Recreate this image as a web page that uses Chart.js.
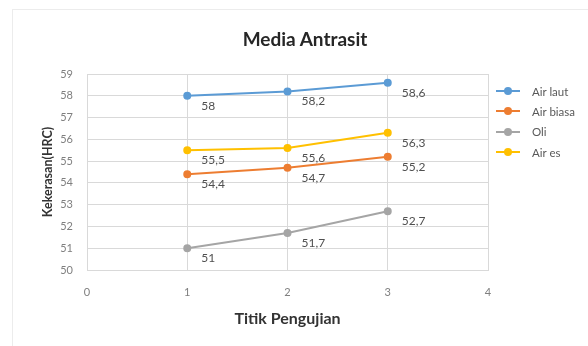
<!DOCTYPE html>
<html>
<head>
<meta charset="utf-8">
<script src="https://cdn.jsdelivr.net/npm/chart.js@4.4.1/dist/chart.umd.min.js"></script>
<style>
    body { margin: 0; background: #fff; font-family: Lato, "Open Sans", sans-serif; }
    #wrap { position: relative; width: 588px; height: 346px; }
    #frame { position: absolute; left: 12px; top: 9px; width: 580px; height: 340px;
             border-left: 1px solid #ececec; border-top: 1px solid #ececec; }
    #chartTitle { position: absolute; left: 185px; width: 240px; top: 27px; text-align: center;
                  font-weight: bold; font-size: 19px; color: #262626; }
    #customLegend { position: absolute; left: 496px; top: 81px; }
    .legend-item { height: 20.3px; display: flex; align-items: center; font-size: 11.5px; color: #595959; }
    .legend-mark { position: relative; width: 24px; height: 2px; margin-right: 12px; }
    .legend-mark i { position: absolute; left: 8px; top: -3px; width: 8px; height: 8px; border-radius: 50%; }
</style>
</head>
<body>
<div id="wrap">
    <div id="frame"></div>
    <div id="chartTitle">Media Antrasit</div>
    <canvas id="hardnessChart" width="588" height="346"></canvas>
    <div id="customLegend"></div>
</div>
<script>
const testPoints = [1, 2, 3];
const seriesNames = ['Air laut', 'Air biasa', 'Oli', 'Air es'];
const airLaut = [58, 58.2, 58.6];
const airBiasa = [54.4, 54.7, 55.2];
const oli = [51, 51.7, 52.7];
const airEs = [55.5, 55.6, 56.3];
const seriesColors = ['#5B9BD5', '#ED7D31', '#A5A5A5', '#FFC000'];
const yTicks = { min: 50, max: 59, step: 1 };
const xTicks = { min: 0, max: 4, step: 1 };

document.addEventListener("DOMContentLoaded", function () {
    const allSeries = [airLaut, airBiasa, oli, airEs];

    // value labels to the lower right of each point, decimal comma
    const valueLabels = {
        id: 'valueLabels',
        afterDatasetsDraw(chart) {
            const ctx = chart.ctx;
            ctx.save();
            ctx.font = '12px Lato, "Open Sans", sans-serif';
            ctx.fillStyle = '#505050';
            ctx.textAlign = 'left';
            ctx.textBaseline = 'middle';
            chart.data.datasets.forEach((ds, i) => {
                chart.getDatasetMeta(i).data.forEach((pt, j) => {
                    const text = String(ds.data[j].y).replace('.', ',');
                    ctx.fillText(text, pt.x + 14, pt.y + 10);
                });
            });
            ctx.restore();
        }
    };

    const chart = new Chart(document.getElementById("hardnessChart"), {
        type: 'scatter',
        data: {
            datasets: allSeries.map((values, i) => ({
                label: seriesNames[i],
                data: values.map((v, j) => ({ x: testPoints[j], y: v })),
                showLine: true,
                borderColor: seriesColors[i],
                backgroundColor: seriesColors[i],
                borderWidth: 2,
                pointRadius: 3,
                pointHoverRadius: 3
            }))
        },
        options: {
            responsive: false,
            animation: false,
            layout: { padding: { left: 36, right: 100, top: 74, bottom: 14 } },
            plugins: { legend: { display: false }, tooltip: { enabled: false } },
            scales: {
                x: {
                    type: 'linear',
                    min: xTicks.min, max: xTicks.max,
                    ticks: { stepSize: xTicks.step, color: '#7f7f7f', font: { size: 11, family: 'Lato' }, padding: 16 },
                    grid: { color: '#d9d9d9', tickLength: 0 },
                    border: { color: '#d9d9d9' },
                    title: { display: true, text: 'Titik Pengujian', color: '#333333',
                             font: { size: 16, weight: 'bold', family: 'Lato' } },
                    afterFit(scale) { scale.height = 62; }
                },
                y: {
                    min: yTicks.min, max: yTicks.max,
                    ticks: { stepSize: yTicks.step, color: '#7f7f7f', font: { size: 11, family: 'Lato' }, padding: 14 },
                    grid: { color: '#d9d9d9', tickLength: 0 },
                    border: { color: '#d9d9d9' },
                    title: { display: true, text: 'Kekerasan(HRC)', color: '#333333',
                             font: { size: 12.5, weight: 'bold', family: 'Lato' } },
                    afterFit(scale) { scale.width = 51; }
                }
            }
        },
        plugins: [valueLabels]
    });

    document.getElementById("customLegend").innerHTML = seriesNames.map((name, i) => `
        <div class="legend-item">
            <span class="legend-mark" style="background:${seriesColors[i]};"><i style="background:${seriesColors[i]};"></i></span>
            <span>${name}</span>
        </div>`).join('');
});
</script>
</body>
</html>
